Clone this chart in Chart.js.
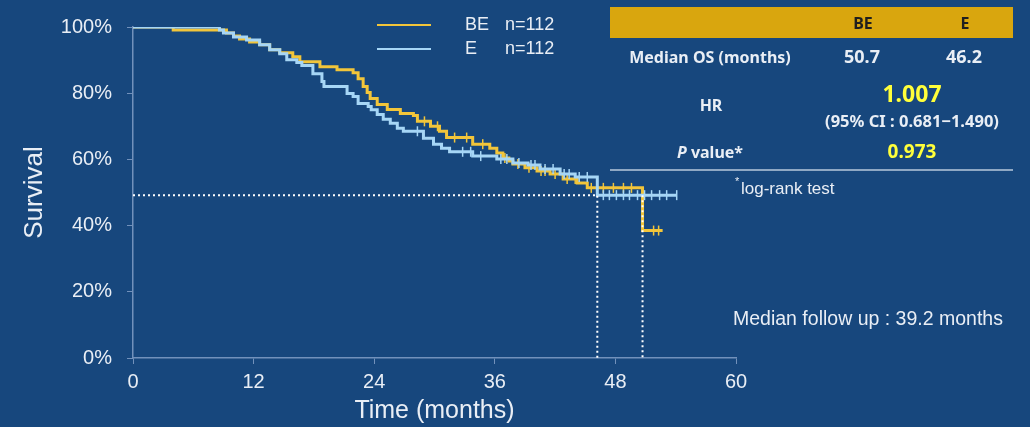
<!DOCTYPE html>
<html>
<head>
<meta charset="utf-8">
<script src="https://cdn.jsdelivr.net/npm/chart.js@4.4.0/dist/chart.umd.min.js"></script>
<style>
  html, body { margin: 0; padding: 0; background: #17477d; }
  canvas { display: block; }
</style>
</head>
<body>
<canvas id="km" width="1030" height="427"></canvas>
<script>
// Kaplan-Meier data (months, survival %)
var groups = ["BE", "E"];
var groupN = [112, 112];

var beTimes = [0, 4.0, 9.3, 10.0, 10.6, 11.6, 12.6, 13.6, 14.6, 15.9, 16.6, 18.6, 20.3, 21.9, 22.4, 22.9, 23.3, 23.6, 24.3, 25.3,
               26.6, 27.9, 28.3, 29.6, 30.5, 31.2, 33.8, 35.5, 36.2, 36.8, 37.4, 37.8, 39.0, 40.2, 41.5, 42.8, 44.2, 45.2, 50.7, 52.7];
var beSurv  = [100, 99.1, 98.2, 97.3, 96.4, 95.5, 94.6, 93.1, 92.2, 91.0, 89.5, 88.0, 87.1, 86.2, 84.4, 82.0, 80.2, 78.4, 76.6, 75.1,
               73.9, 73.3, 71.5, 70.0, 68.5, 66.6, 64.6, 63.4, 61.9, 60.4, 59.5, 58.6, 57.5, 56.5, 55.6, 54.1, 52.9, 51.4, 38.5, 38.5];

var eTimes = [0, 8.6, 9.0, 10.0, 11.3, 12.6, 13.6, 14.6, 15.3, 16.3, 16.8, 17.9, 18.8, 19.0, 21.3, 21.9, 22.4, 23.4, 23.7, 24.3,
              24.9, 25.6, 26.3, 26.9, 28.9, 29.9, 30.7, 31.5, 33.8, 36.2, 37.8, 39.3, 40.5, 42.5, 44.0, 46.2, 54.1];
var eSurv  = [100, 99.1, 98.2, 97.0, 96.1, 94.6, 93.1, 91.9, 90.1, 89.3, 88.4, 85.9, 83.5, 82.0, 79.9, 79.0, 76.9, 76.0, 75.0, 73.6,
              72.1, 70.9, 69.4, 68.5, 66.4, 64.6, 63.4, 62.3, 61.0, 60.1, 58.9, 58.3, 57.1, 55.6, 54.7, 49.2, 49.2];

// censored patients (months)
var beCensor = [29.0, 30.3, 32.0, 33.2, 34.8, 37.0, 38.3, 39.4, 40.6, 41.0, 42.0, 43.2, 44.0, 45.6, 46.8, 47.8, 48.8, 49.6, 51.8, 52.3];
var eCensor  = [28.3, 32.8, 33.6, 34.6, 36.6, 37.2, 38.4, 39.6, 40.0, 41.0, 41.8, 42.9, 43.4, 44.4, 45.2, 46.8, 47.4, 48.1, 48.8,
                49.4, 50.2, 50.9, 51.6, 52.4, 53.1, 54.1];

var xTicks = [0, 12, 24, 36, 48, 60];
var yTicks = [0, 20, 40, 60, 80, 100];

var medianOS = [50.7, 46.2];
var medianLevel = 49.2;
var hrText = "1.007";
var ciText = "(95% CI : 0.681\u22121.490)";
var pText = "0.973";
var followUp = "39.2";

var beColor = "#f2c53a";
var eColor = "#a6d6f6";
var textColor = "#e9eef5";
var axisColor = "#7291bb";
var yellowText = "#ffff3a";
var sans = "'Liberation Sans', Arial, sans-serif";

function toPoints(t, s) {
  return t.map(function (v, i) { return { x: v, y: s[i] }; });
}
function survAt(t, s, time) {
  var y = s[0];
  for (var i = 0; i < t.length; i++) { if (t[i] <= time) y = s[i]; }
  return y;
}
function censorPoints(c, t, s) {
  return c.map(function (v) { return { x: v, y: survAt(t, s, v) }; });
}

var dotted = { type: "line", borderColor: "#ffffff", borderWidth: 2, borderDash: [2, 3], pointRadius: 0, fill: false };

var datasets = [
  Object.assign({ data: [{ x: 0, y: medianLevel }, { x: medianOS[1], y: medianLevel }, { x: medianOS[1], y: 0 }] }, dotted),
  Object.assign({ data: [{ x: medianOS[0], y: medianLevel }, { x: medianOS[0], y: 0 }] }, dotted),
  { type: "scatter", data: censorPoints(eCensor, eTimes, eSurv), pointStyle: "line", rotation: 90, radius: 5,
    borderColor: eColor, borderWidth: 1.5 },
  { type: "line", label: groups[1], data: toPoints(eTimes, eSurv), stepped: true, borderColor: eColor,
    borderWidth: 3, pointRadius: 0, fill: false },
  { type: "scatter", data: censorPoints(beCensor, beTimes, beSurv), pointStyle: "line", rotation: 90, radius: 5,
    borderColor: beColor, borderWidth: 1.5 },
  { type: "line", label: groups[0], data: toPoints(beTimes, beSurv), stepped: true, borderColor: beColor,
    borderWidth: 3, pointRadius: 0, fill: false }
];

// legend + summary table drawn on the canvas
var extras = {
  id: "extras",
  afterDraw: function (chart) {
    var ctx = chart.ctx;
    ctx.save();
    ctx.textBaseline = "middle";

    // legend
    var cols = [beColor, eColor];
    var ly = [25, 49];
    for (var i = 0; i < 2; i++) {
      ctx.strokeStyle = cols[i];
      ctx.lineWidth = 2;
      ctx.beginPath();
      ctx.moveTo(377, ly[i]);
      ctx.lineTo(431, ly[i]);
      ctx.stroke();
      ctx.fillStyle = textColor;
      ctx.font = "18px " + sans;
      ctx.textAlign = "left";
      ctx.fillText(groups[i], 465, ly[i]);
      ctx.fillText("n=" + groupN[i], 505, ly[i]);
    }

    // table
    ctx.fillStyle = "#d9a60e";
    ctx.fillRect(610, 7, 403, 31);
    ctx.textAlign = "center";
    ctx.fillStyle = "#1f1f1f";
    ctx.font = "bold 16px 'Noto Sans', sans-serif";
    ctx.fillText(groups[0], 863, 24);
    ctx.fillText(groups[1], 965, 24);

    ctx.fillStyle = textColor;
    ctx.font = "bold 16px 'Noto Sans', sans-serif";
    ctx.fillText("Median OS (months)", 710, 58);
    ctx.font = "bold 18px 'Noto Sans', sans-serif";
    ctx.fillText(medianOS[0].toFixed(1), 862, 58);
    ctx.fillText(medianOS[1].toFixed(1), 964, 58);

    ctx.font = "bold 16px 'Noto Sans', sans-serif";
    ctx.fillText("HR", 711, 106);
    ctx.fillStyle = yellowText;
    ctx.font = "bold 23px 'Noto Sans', sans-serif";
    ctx.fillText(hrText, 912, 95);
    ctx.fillStyle = textColor;
    ctx.font = "bold 16.5px 'Noto Sans', sans-serif";
    ctx.fillText(ciText, 912, 122);

    // P value* with italic P
    ctx.textAlign = "left";
    ctx.font = "italic bold 16px 'Noto Sans', sans-serif";
    var wP = ctx.measureText("P").width;
    ctx.font = "bold 16px 'Noto Sans', sans-serif";
    var wRest = ctx.measureText(" value*").width;
    var px = 710 - (wP + wRest) / 2;
    ctx.font = "italic bold 16px 'Noto Sans', sans-serif";
    ctx.fillText("P", px, 153);
    ctx.font = "bold 16px 'Noto Sans', sans-serif";
    ctx.fillText(" value*", px + wP, 153);
    ctx.textAlign = "center";
    ctx.fillStyle = yellowText;
    ctx.font = "bold 19px 'Noto Sans', sans-serif";
    ctx.fillText(pText, 912, 153);

    ctx.strokeStyle = "#b9c8dc";
    ctx.lineWidth = 1.5;
    ctx.beginPath();
    ctx.moveTo(610, 170);
    ctx.lineTo(1013, 170);
    ctx.stroke();

    ctx.fillStyle = textColor;
    ctx.textAlign = "left";
    ctx.font = "11px " + sans;
    ctx.fillText("*", 735, 182);
    ctx.font = "17px " + sans;
    ctx.fillText("log-rank test", 741, 189);

    ctx.font = "19.5px " + sans;
    ctx.fillText("Median follow up : " + followUp + " months", 733, 320);
    ctx.restore();
  }
};

var ctx1 = document.getElementById("km");
var chart1 = new Chart(ctx1, {
  type: "scatter",
  data: { datasets: datasets },
  options: {
    responsive: false,
    animation: false,
    layout: { padding: { top: 25, right: 294, left: 0, bottom: 0 } },
    plugins: { legend: { display: false }, tooltip: { enabled: false } },
    scales: {
      x: {
        type: "linear", min: 0, max: 60,
        afterBuildTicks: function (s) { s.ticks = xTicks.map(function (v) { return { value: v }; }); },
        afterFit: function (s) { s.height = 69; },
        grid: { drawOnChartArea: false, color: axisColor, tickLength: 6 },
        border: { color: axisColor, width: 1.5 },
        ticks: { color: textColor, font: { family: sans, size: 20 }, padding: 6, maxRotation: 0 },
        title: { display: true, text: "Time (months)", color: textColor,
                 font: { family: sans, size: 25 }, padding: { top: 0, bottom: 1 } }
      },
      y: {
        min: 0, max: 100,
        afterBuildTicks: function (s) { s.ticks = yTicks.map(function (v) { return { value: v }; }); },
        afterFit: function (s) { s.width = 133; },
        grid: { drawOnChartArea: false, color: axisColor, tickLength: 6 },
        border: { color: axisColor, width: 1.5 },
        ticks: { color: textColor, font: { family: sans, size: 20 }, padding: 15,
                 callback: function (v) { return v + "%"; } },
        title: { display: true, text: "Survival", color: textColor,
                 font: { family: sans, size: 26 }, padding: { top: 19, bottom: 0 } }
      }
    }
  },
  plugins: [extras]
});
</script>
</body>
</html>
